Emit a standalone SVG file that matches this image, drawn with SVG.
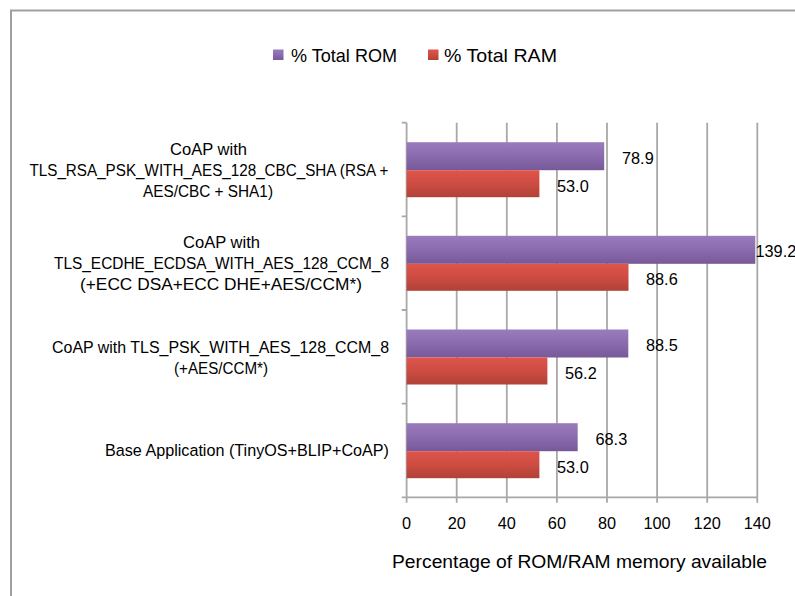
<svg xmlns="http://www.w3.org/2000/svg" width="795" height="596" viewBox="0 0 795 596">
<style>
text{font-family:"Liberation Sans",Arial,sans-serif;fill:#000;}
.cat{font-size:16.3px;text-anchor:middle;}
.val{font-size:16.3px;}
.tick{font-size:16.3px;text-anchor:middle;}
.leg{font-size:17.7px;}
.grid{stroke:#a8a8a8;stroke-width:1.8;fill:none;}
.frame{stroke:#a0a0a0;stroke-width:2;fill:none;}
.rom{fill:url(#gRom);}
.ram{fill:url(#gRam);}
</style>
<defs>
<linearGradient id="gRom" x1="0" y1="0" x2="0" y2="1">
<stop offset="0" stop-color="#9a7bbe"/>
<stop offset="0.5" stop-color="#8a6bae"/>
<stop offset="1" stop-color="#775898"/>
</linearGradient>
<linearGradient id="gRam" x1="0" y1="0" x2="0" y2="1">
<stop offset="0" stop-color="#de554b"/>
<stop offset="0.5" stop-color="#cd4c42"/>
<stop offset="1" stop-color="#b04237"/>
</linearGradient>
</defs>
<rect width="795" height="596" fill="#fff"/>
<path class="frame" d="M11 596 V10.5 H795"/>

<g id="legend">
<rect x="273" y="49.5" width="10.5" height="10.5" class="rom"/>
<text class="leg" x="291" y="62" textLength="106" lengthAdjust="spacingAndGlyphs">% Total ROM</text>
<rect x="428" y="49.5" width="10.5" height="10.5" class="ram"/>
<text class="leg" x="444" y="62" textLength="113" lengthAdjust="spacingAndGlyphs">% Total RAM</text>
</g>

<g id="grid">
<path class="grid" d="M456.7 122.7V502.7 M506.8 122.7V502.7 M556.9 122.7V502.7 M607 122.7V502.7 M657.1 122.7V502.7 M707.2 122.7V502.7 M757.3 122.7V502.7"/>
<path class="grid" d="M406.6 122.7V502.7 M401.7 497.3H757.3 M401.7 122.7H406.6 M401.7 216.3H406.6 M401.7 310H406.6 M401.7 403.7H406.6"/>
</g>

<g id="cat-rsa">
<text class="cat" x="208.5" y="154.5" textLength="77" lengthAdjust="spacingAndGlyphs">CoAP with</text>
<text class="cat" x="209" y="175.5" textLength="359" lengthAdjust="spacingAndGlyphs">TLS_RSA_PSK_WITH_AES_128_CBC_SHA (RSA +</text>
<text class="cat" x="208" y="196.5" textLength="130" lengthAdjust="spacingAndGlyphs">AES/CBC + SHA1)</text>
<rect class="rom" x="406.6" y="142.2" width="197.6" height="28"/>
<rect class="ram" x="406.6" y="170.2" width="132.8" height="27"/>
<text class="val" x="622" y="164.2">78.9</text>
<text class="val" x="557" y="191.7">53.0</text>
</g>

<g id="cat-ecdhe">
<text class="cat" x="221.5" y="248" textLength="77" lengthAdjust="spacingAndGlyphs">CoAP with</text>
<text class="cat" x="221.5" y="269" textLength="335" lengthAdjust="spacingAndGlyphs">TLS_ECDHE_ECDSA_WITH_AES_128_CCM_8</text>
<text class="cat" x="221" y="290" textLength="282" lengthAdjust="spacingAndGlyphs">(+ECC DSA+ECC DHE+AES/CCM*)</text>
<rect class="rom" x="406.6" y="235.8" width="348.7" height="28"/>
<rect class="ram" x="406.6" y="263.8" width="221.9" height="27"/>
<text class="val" x="755.5" y="257.3">139.2</text>
<text class="val" x="646" y="285">88.6</text>
</g>

<g id="cat-psk">
<text class="cat" x="220.5" y="352.6" textLength="337" lengthAdjust="spacingAndGlyphs">CoAP with TLS_PSK_WITH_AES_128_CCM_8</text>
<text class="cat" x="221" y="373.6" textLength="94" lengthAdjust="spacingAndGlyphs">(+AES/CCM*)</text>
<rect class="rom" x="406.6" y="329.5" width="221.7" height="28"/>
<rect class="ram" x="406.6" y="357.5" width="140.8" height="27"/>
<text class="val" x="646" y="351.2">88.5</text>
<text class="val" x="565" y="378.5">56.2</text>
</g>

<g id="cat-base">
<text class="cat" x="247" y="456.3" textLength="284" lengthAdjust="spacingAndGlyphs">Base Application (TinyOS+BLIP+CoAP)</text>
<rect class="rom" x="406.6" y="423.2" width="171.1" height="28"/>
<rect class="ram" x="406.6" y="451.2" width="132.8" height="27"/>
<text class="val" x="595.5" y="445">68.3</text>
<text class="val" x="557" y="472.5">53.0</text>
</g>

<g id="x-axis">
<text class="tick" x="406.6" y="528.5">0</text>
<text class="tick" x="456.7" y="528.5">20</text>
<text class="tick" x="506.8" y="528.5">40</text>
<text class="tick" x="556.9" y="528.5">60</text>
<text class="tick" x="607" y="528.5">80</text>
<text class="tick" x="657.1" y="528.5">100</text>
<text class="tick" x="707.2" y="528.5">120</text>
<text class="tick" x="757.3" y="528.5">140</text>
<text x="392" y="567.5" font-size="17.5" textLength="375" lengthAdjust="spacingAndGlyphs">Percentage of ROM/RAM memory available</text>
</g>
</svg>
